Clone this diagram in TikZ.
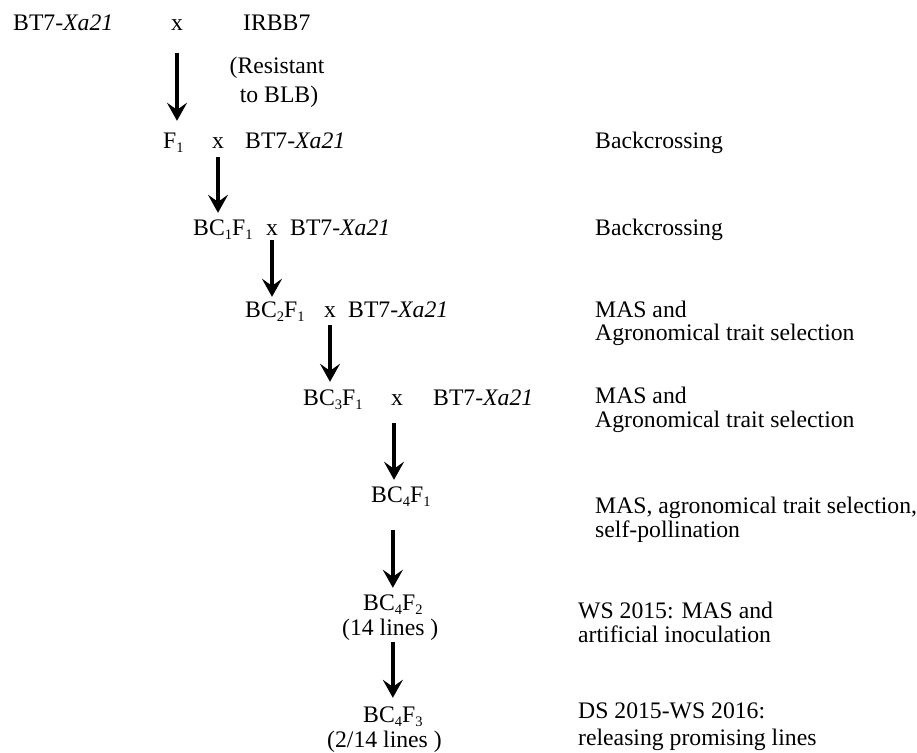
\documentclass[tikz,border=0pt]{standalone}
\usepackage{fontspec}
\setmainfont{Liberation Serif}
\usetikzlibrary{arrows.meta}
\newcommand{\sbs}[1]{\raisebox{-0.4ex}{\fontsize{14.5}{14.5}\selectfont #1}}
\newcommand{\xa}{BT7-\textit{Xa21}}
\begin{document}
\begin{tikzpicture}[x=1pt,y=-1pt,
  txt/.style={inner sep=0pt,anchor=base west,font=\fontsize{23.7}{24}\selectfont,text height=16pt,text depth=5pt},
  cross/.style={txt,anchor=base},
  arr/.style={line width=4.5pt,-{Stealth[length=18pt,width=20pt,inset=7pt]}}]
\useasboundingbox (0,0) rectangle (917,752);
% row 1
\node[txt] (p1) at (13,31) {\xa};
\node[cross] (x1) at (177,31) {x};
\node[txt] (p2) at (243,31) {IRBB7};
\node[txt,anchor=base] (r1) at (277,74) {(Resistant};
\node[txt,anchor=base] (r2) at (279,102) {to BLB)};
% row 2
\node[txt] (f1) at (163,148) {F\sbs{1}};
\node[cross] (x2) at (218,148) {x};
\node[txt] (b2) at (245,148) {\xa};
\node[txt] (l2) at (595,148) {Backcrossing};
% row 3
\node[txt] (bc1) at (193,235) {BC\sbs{1}F\sbs{1}};
\node[cross] (x3) at (272,235) {x};
\node[txt] (b3) at (290,235) {\xa};
\node[txt] (l3) at (595,235) {Backcrossing};
% row 4
\node[txt] (bc2) at (245,317) {BC\sbs{2}F\sbs{1}};
\node[cross] (x4) at (330,317) {x};
\node[txt] (b4) at (348,317) {\xa};
\node[txt] (l4a) at (595,317) {MAS and};
\node[txt] (l4b) at (595,340) {Agronomical trait selection};
% row 5
\node[txt] (bc3) at (303,405) {BC\sbs{3}F\sbs{1}};
\node[cross] (x5) at (397,405) {x};
\node[txt] (b5) at (433,405) {\xa};
\node[txt] (l5a) at (595,403) {MAS and};
\node[txt] (l5b) at (595,427) {Agronomical trait selection};
% row 6
\node[txt] (bc4a) at (371,502) {BC\sbs{4}F\sbs{1}};
\node[txt] (l6a) at (595,513) {MAS, agronomical trait selection,};
\node[txt] (l6b) at (595,537) {self-pollination};
% row 7
\node[txt,text depth=3pt] (bc4b) at (363,610) {BC\sbs{4}F\sbs{2}};
\node[txt,text height=14pt] (n14) at (342,635) {(14 lines )};
\node[txt] (l7a) at (578,618) {WS 2015: MAS and};
\node[txt] (l7b) at (578,642) {artificial inoculation};
% row 8
\node[txt] (bc4c) at (363,722) {BC\sbs{4}F\sbs{3}};
\node[txt] (n214) at (327,747) {(2/14 lines )};
\node[txt] (l8a) at (578,718) {DS 2015-WS 2016:};
\node[txt] (l8b) at (578,745) {releasing promising lines};
% arrows
\draw[arr,shorten <=17pt,shorten >=11pt] (x1.south) -- (x1.south |- f1.north);
\draw[arr,shorten <=4pt,shorten >=6pt] (x2.south) -- (x2.south |- bc1.north);
\draw[arr,shorten <=0pt,shorten >=4pt] (x3.south) -- (x3.south |- bc2.north);
\draw[arr,shorten <=3pt,shorten >=7pt] (x4.south) -- (x4.south |- bc3.north);
\draw[arr,shorten <=13pt,shorten >=6pt] ([xshift=-3pt]x5.south) -- ([xshift=-3pt]x5.south |- bc4a.north);
\draw[arr,shorten <=23pt,shorten >=6pt] (bc4a.south -| bc4b.north) -- (bc4b.north);
\draw[arr,shorten <=2pt,shorten >=8pt] (n14.south -| bc4c.north) -- (bc4c.north);
\end{tikzpicture}
\end{document}
